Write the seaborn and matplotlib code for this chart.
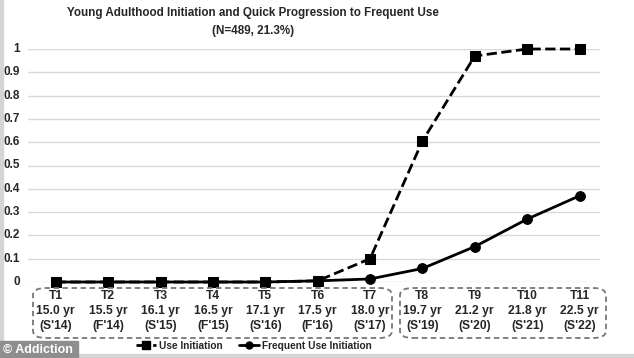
import matplotlib
matplotlib.use("Agg")
import matplotlib.pyplot as plt
from matplotlib.patches import FancyBboxPatch, Rectangle
from matplotlib.lines import Line2D
import seaborn as sns
import pandas as pd

waves = ["T1", "T2", "T3", "T4", "T5", "T6", "T7", "T8", "T9", "T10", "T11"]
ages = ["15.0 yr", "15.5 yr", "16.1 yr", "16.5 yr", "17.1 yr", "17.5 yr",
        "18.0 yr", "19.7 yr", "21.2 yr", "21.8 yr", "22.5 yr"]
terms = ["(S'14)", "(F'14)", "(S'15)", "(F'15)", "(S'16)", "(F'16)",
         "(S'17)", "(S'19)", "(S'20)", "(S'21)", "(S'22)"]
use_init = [0, 0, 0, 0, 0, 0.005, 0.10, 0.605, 0.97, 1.0, 1.0]
freq_init = [0, 0, 0, 0, 0, 0.005, 0.013, 0.058, 0.152, 0.27, 0.37]
yticks = [0, 0.1, 0.2, 0.3, 0.4, 0.5, 0.6, 0.7, 0.8, 0.9, 1]
ytick_labels = ["0", "0.1", "0.2", "0.3", "0.4", "0.5", "0.6", "0.7", "0.8", "0.9", "1"]

df = pd.DataFrame({"idx": range(len(waves)), "use": use_init, "freq": freq_init})

sns.set_style("white")
plt.rcParams["font.family"] = ["Liberation Sans", "DejaVu Sans"]
plt.rcParams["font.weight"] = "bold"

W, H = 634, 358
fig = plt.figure(figsize=(W / 100, H / 100), dpi=100)

# framing bits of the screenshot
fig.patches.append(Rectangle((0, 0), 3 / W, 1, transform=fig.transFigure,
                             color="#d4d4d4", zorder=0))
fig.patches.append(Rectangle((0, 0), 1, 4 / H, transform=fig.transFigure,
                             color="#d4d4d4", zorder=0))

ax = fig.add_axes([28 / W, 1 - 282 / H, 572 / W, 233 / H])

for y in yticks:
    ax.axhline(y, color="#d9d9d9", lw=1, zorder=0)

sns.lineplot(data=df, x="idx", y="use", ax=ax, color="black", lw=2,
             linestyle="--", marker="s", markersize=6.5, markeredgecolor="black",
             clip_on=False, zorder=3)
sns.lineplot(data=df, x="idx", y="freq", ax=ax, color="black", lw=2,
             marker="o", markersize=7, markeredgecolor="black",
             clip_on=False, zorder=4)

ax.set_xlim(-0.53, 10.39)
ax.set_ylim(0, 1)
ax.set_xticks([])
ax.set_yticks([])
ax.set_xlabel("")
ax.set_ylabel("")
for s in ax.spines.values():
    s.set_visible(False)

# y tick labels
for y, lab in zip(yticks, ytick_labels):
    ax.annotate(lab, xy=(0, y), xycoords=("axes fraction", "data"),
                xytext=(-6, 0), textcoords="offset points",
                ha="right", va="center", fontsize=8.5, fontweight="bold")

# x tick labels (three lines each)
for i in range(len(waves)):
    ax.annotate(f"{waves[i]}\n{ages[i]}\n{terms[i]}", xy=(i, 0),
                xycoords=("data", "axes fraction"), xytext=(0, -6),
                textcoords="offset points", ha="center", va="top",
                fontsize=8.7, fontweight="bold", linespacing=1.3)

# dashed group boxes
for x0, x1 in [(33, 392), (400, 606)]:
    fig.patches.append(FancyBboxPatch(
        (x0 / W, 1 - 338 / H), (x1 - x0) / W, 50 / H,
        boxstyle="round,pad=0,rounding_size=0.02",
        transform=fig.transFigure, fill=False, edgecolor="#777777",
        lw=1.3, linestyle=(0, (3, 2))))

fig.text(253 / W, 1 - 13 / H, "Young Adulthood Initiation and Quick Progression to Frequent Use",
         ha="center", va="center", fontsize=8.4, fontweight="bold")
fig.text(253 / W, 1 - 31 / H, "(N=489, 21.3%)",
         ha="center", va="center", fontsize=8.4, fontweight="bold")

handles = [
    Line2D([], [], color="black", lw=2, linestyle=(0, (2, 1)), marker="s", markersize=6),
    Line2D([], [], color="black", lw=2, marker="o", markersize=5),
]
fig.legend(handles, ["Use Initiation", "Frequent Use Initiation"],
           loc="center", bbox_to_anchor=(254 / W, 1 - 346 / H), ncol=2,
           frameon=False, handlelength=2.0, handletextpad=0.3,
           columnspacing=1.6, prop={"weight": "bold", "size": 7.3})

fig.patches.append(Rectangle((0, 0), 78 / W, 17 / H, transform=fig.transFigure,
                             color="#8e8e8e", zorder=1))
fig.text(3 / W, 8 / H, "© Addiction", color="white", ha="left", va="center",
         fontsize=9, fontweight="bold")

fig.savefig("out.png", dpi=100)
